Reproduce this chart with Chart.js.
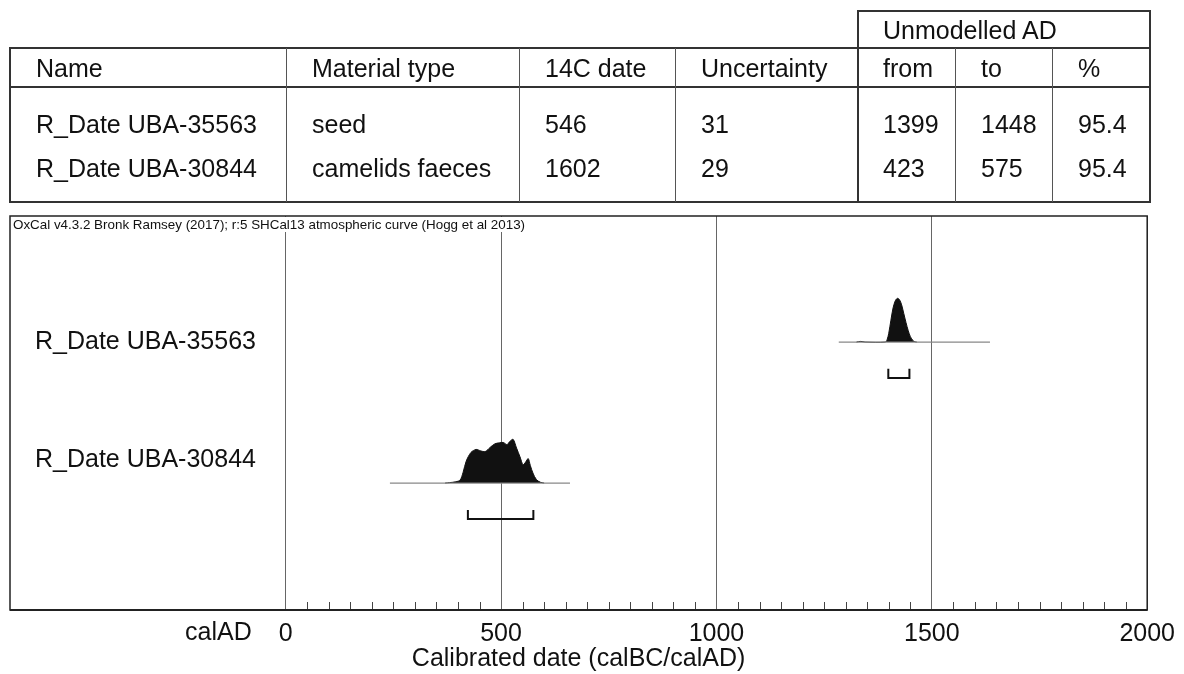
<!DOCTYPE html>
<html>
<head>
<meta charset="utf-8">
<script src="https://cdn.jsdelivr.net/npm/chart.js@4.4.1/dist/chart.umd.min.js"></script>
<style>
  body { margin: 0; background: #fff; width: 1184px; height: 674px; overflow: hidden; position: relative;
         font-family: "Liberation Sans", Arial, sans-serif; color: #111; }
  #chartWrap { position: absolute; left: 0; top: 0; width: 1184px; height: 674px; }
  .cell { position: absolute; font-size: 25px; line-height: 30px; white-space: nowrap; }
  .ln { position: absolute; background: #333; }
</style>
</head>
<body>
<div id="chartWrap"><canvas id="chartCanvas"></canvas></div>
<div id="table"></div>
<script>
// table values
const tableHeaders = ['Name', 'Material type', '14C date', 'Uncertainty', 'from', 'to', '%'];
const sampleNames = ['R_Date UBA-35563', 'R_Date UBA-30844'];
const materialTypes = ['seed', 'camelids faeces'];
const c14Dates = [546, 1602];
const uncertainties = [31, 29];
const rangeFrom = [1399, 423];
const rangeTo = [1448, 575];
const rangePct = ['95.4', '95.4'];

// axis
const majorTicks = [0, 500, 1000, 1500, 2000];
const minorStep = 50;

// rows in the plot (row slot, label slot)
const rowPos = [2, 1];
const labelPos = [2, 1.163];
const baselineFrom = [1284, 242];
const baselineTo = [1635, 660];

// probability distributions (relative height)
const years35563 = [1325, 1335, 1345, 1392, 1396, 1400, 1405, 1410, 1415, 1420, 1425, 1430, 1435, 1440, 1445, 1450, 1455, 1460, 1465];
const prob35563  = [0, 0.015, 0, 0, 0.05, 0.2, 0.5, 0.78, 0.94, 1.0, 0.97, 0.85, 0.65, 0.45, 0.27, 0.13, 0.05, 0.01, 0];
const years30844 = [370, 380, 395, 405, 412, 419, 430, 442, 452, 463, 475, 486, 496, 505, 514, 520, 528, 536, 544, 551, 557, 563, 568, 574, 582, 591, 600];
const prob30844  = [0, 0.01, 0.03, 0.07, 0.25, 0.5, 0.7, 0.77, 0.74, 0.72, 0.82, 0.9, 0.92, 0.93, 0.88, 0.95, 1.0, 0.8, 0.6, 0.42, 0.48, 0.56, 0.4, 0.23, 0.08, 0.02, 0];

const peakHeight = 0.31;

// ---- table (plain html) ----
const colEdges = [10, 286, 519, 675, 857, 955, 1052, 1150];
const tbl = document.getElementById('table');
function addText(txt, x, cy) {
  const d = document.createElement('div');
  d.className = 'cell';
  d.style.left = x + 'px';
  d.style.top = (cy - 15) + 'px';
  d.textContent = txt;
  tbl.appendChild(d);
}
function addLine(x, y, w, h, color) {
  const d = document.createElement('div');
  d.className = 'ln';
  d.style.left = x + 'px'; d.style.top = y + 'px';
  d.style.width = w + 'px'; d.style.height = h + 'px';
  if (color) d.style.background = color;
  tbl.appendChild(d);
}
addLine(10, 47, 1140, 2);
addLine(10, 86, 1140, 2);
addLine(10, 201, 1140, 2);
addLine(9, 47, 2, 156);
addLine(1149, 10, 2, 193);
addLine(857, 10, 293, 1.5);
addLine(857, 10, 1.5, 193);
[286, 519, 675, 955, 1052].forEach(x => addLine(x, 48, 1, 154, '#555'));

addText('Unmodelled AD', colEdges[4] + 26, 30);
tableHeaders.forEach((h, i) => addText(h, colEdges[i] + 26, 68));
const rowY = [124, 168];
sampleNames.forEach((n, r) => {
  const vals = [n, materialTypes[r], c14Dates[r], uncertainties[r], rangeFrom[r], rangeTo[r], rangePct[r]];
  vals.forEach((v, i) => addText(String(v), colEdges[i] + 26, rowY[r]));
});

// ---- plot ----
const toPoints = (years, probs, row) => years.map((x, i) => ({ x, y: row + probs[i] * peakHeight }));

const datasets = [];
[[years35563, prob35563], [years30844, prob30844]].forEach(([ys, ps], r) => {
  datasets.push({
    data: [{ x: baselineFrom[r], y: rowPos[r] }, { x: baselineTo[r], y: rowPos[r] }],
    borderColor: '#888', borderWidth: 1.2, showLine: true, pointRadius: 0, fill: false
  });
  datasets.push({
    data: toPoints(ys, ps, rowPos[r]),
    borderColor: '#111', backgroundColor: '#111', borderWidth: 1,
    showLine: true, pointRadius: 0, tension: 0.3,
    fill: { value: rowPos[r] }
  });
  datasets.push({
    data: [
      { x: rangeFrom[r], y: rowPos[r] - 0.19 }, { x: rangeFrom[r], y: rowPos[r] - 0.255 },
      { x: rangeTo[r], y: rowPos[r] - 0.255 }, { x: rangeTo[r], y: rowPos[r] - 0.19 }
    ],
    borderColor: '#111', borderWidth: 2, showLine: true, pointRadius: 0, fill: false
  });
});

const decor = {
  id: 'decor',
  afterDraw(chart) {
    const { ctx, chartArea: a, scales } = chart;
    const xs = scales.x, ys = scales.y;
    ctx.save();
    // minor ticks
    ctx.strokeStyle = '#444';
    ctx.lineWidth = 1;
    for (let v = minorStep; v < 2000; v += minorStep) {
      if (v % 500 === 0) continue;
      const px = Math.round(xs.getPixelForValue(v)) + 0.5;
      ctx.beginPath(); ctx.moveTo(px, a.bottom); ctx.lineTo(px, a.bottom - 8); ctx.stroke();
    }
    // header text on white
    ctx.font = '13.4px "Liberation Sans", Arial, sans-serif';
    const head = 'OxCal v4.3.2 Bronk Ramsey (2017); r:5 SHCal13 atmospheric curve (Hogg et al 2013)';
    const w = ctx.measureText(head).width;
    ctx.fillStyle = '#fff';
    ctx.fillRect(a.left + 1, a.top + 1, w + 6, 15);
    ctx.fillStyle = '#111';
    ctx.textBaseline = 'middle';
    ctx.fillText(head, a.left + 3, a.top + 9);
    // row labels
    ctx.font = '25px "Liberation Sans", Arial, sans-serif';
    sampleNames.forEach((n, r) => ctx.fillText(n, 35, ys.getPixelForValue(labelPos[r])));
    // calAD
    ctx.textAlign = 'right';
    ctx.fillText('calAD', xs.getPixelForValue(0) - 34, a.bottom + 23);
    // box
    ctx.strokeStyle = '#222';
    ctx.lineWidth = 1.5;
    ctx.strokeRect(a.left, a.top, a.right - a.left, a.bottom - a.top);
    ctx.lineWidth = 2;
    ctx.beginPath(); ctx.moveTo(a.left, a.bottom); ctx.lineTo(a.right, a.bottom); ctx.stroke();
    ctx.restore();
  }
};

new Chart(document.getElementById('chartCanvas'), {
  type: 'scatter',
  data: { datasets },
  options: {
    responsive: true,
    maintainAspectRatio: false,
    animation: false,
    layout: { padding: { left: 10, right: 36, top: 216, bottom: 0 } },
    plugins: { legend: { display: false }, tooltip: { enabled: false } },
    scales: {
      x: {
        type: 'linear', min: -640, max: 2000,
        afterBuildTicks: s => { s.ticks = majorTicks.map(v => ({ value: v })); },
        afterFit: s => { s.height = 64; },
        grid: { color: '#666', lineWidth: 1, drawTicks: false },
        border: { display: false },
        ticks: { color: '#111', padding: 9, maxRotation: 0, autoSkip: false,
                 callback: v => String(v),
                 font: { size: 25, family: '"Liberation Sans", Arial, sans-serif' } },
        title: { display: true, text: 'Calibrated date (calBC/calAD)', color: '#111', padding: 0,
                 font: { size: 25, family: '"Liberation Sans", Arial, sans-serif' } }
      },
      y: { display: false, min: 0.1, max: 2.894 }
    }
  },
  plugins: [decor]
});
</script>
</body>
</html>
